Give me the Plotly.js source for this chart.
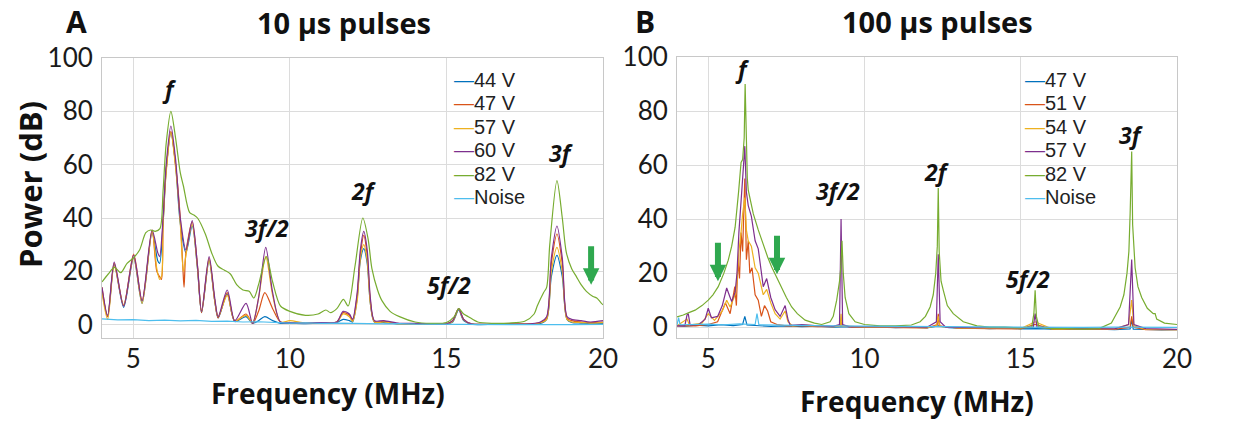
<!DOCTYPE html>
<html>
<head>
<meta charset="utf-8">
<script src="https://cdn.plot.ly/plotly-3.0.1.min.js"></script>
<style>html,body{margin:0;padding:0;background:#fff;}#chart{width:1237px;height:421px;}</style>
</head>
<body>
<div id="chart"></div>
<script>
// ---------- Panel A: 10 µs pulses ----------
const namesA = ['44 V', '47 V', '57 V', '60 V', '82 V', 'Noise'];
const colorsA = ['#0072BD', '#D95319', '#EDB120', '#7E2F8E', '#77AC30', '#4DBEEE'];

const a44x = [4.0,4.18,4.39,4.69,5.01,5.28,5.6,5.78,5.84,5.95,6.05,6.2,6.35,6.5,6.68,6.88,7.05,7.18,7.42,7.6,7.71,8.0,8.24,8.6,8.81,9.0,9.2,9.45,9.7,10.0,10.5,11.0,11.5,11.7,11.9,12.0,12.15,12.25,12.36,12.47,12.57,12.7,13.0,13.5,14.0,14.5,15.0,15.2,15.39,15.55,15.8,16.5,17.0,17.5,18.0,18.2,18.35,18.53,18.7,18.85,19.0,19.3,19.6,20.0];
const a44y = [13,3,22.5,6.5,25,8,34.5,24,23,38,58,72,60,38,27,37,21,4.5,24,9,2.5,11.5,1.2,3,0.5,1.5,3,1.5,0.5,0.5,0.4,0.6,0.8,2,1.5,1,10,24,28.5,23,8,1,0.8,0.3,0.3,0.2,0.2,1,5.5,1.5,0.2,0.1,0.2,0.1,0.5,2,18,26,18,2,0.8,0.6,0.4,0.5];

const a47x = [4.0,4.18,4.39,4.69,5.01,5.28,5.6,5.75,5.84,5.9,5.95,6.05,6.2,6.35,6.5,6.58,6.62,6.68,6.88,7.05,7.18,7.42,7.6,7.71,8.0,8.24,8.6,8.81,9.0,9.2,9.45,9.7,10.0,10.5,11.0,11.5,11.7,11.9,12.0,12.15,12.25,12.36,12.47,12.57,12.7,13.0,13.5,14.0,14.5,15.0,15.2,15.39,15.55,15.8,16.5,17.0,17.5,18.0,18.2,18.35,18.53,18.7,18.85,19.0,19.3,19.6,20.0];
const a47y = [14,3,23,7,26.5,9,35.5,20,18,17,38,58,72.5,60,40,22,14,27,38.5,22,4.5,25,9,2.5,12,1.2,4,0.5,5,12,6,1,0.8,0.5,0.7,1,4.5,3.5,1.5,11,26,33.5,26,9,1.2,1.2,0.3,0.4,0.2,0.3,1.5,6,2,0.3,0.2,0.3,0.2,0.8,2.5,23,34,23,2.5,1.5,1,0.8,1];

const a57x = [4.0,4.18,4.39,4.69,5.01,5.28,5.6,5.75,5.84,5.9,5.95,6.05,6.2,6.35,6.5,6.6,6.68,6.88,7.05,7.18,7.42,7.6,7.71,8.0,8.24,8.6,8.81,9.0,9.23,9.45,9.7,10.0,10.5,11.0,11.5,11.7,11.9,12.0,12.15,12.25,12.36,12.47,12.57,12.7,13.0,13.5,14.0,14.5,15.0,15.2,15.39,15.55,15.8,16.5,17.0,17.5,18.0,18.2,18.35,18.53,18.7,18.85,19.0,19.3,19.6,20.0];
const a57y = [12,2,22,7.5,25,8,35,21,17,18,37,57,72,59,38,20,26,37.5,21,5,24,9,3,11,1.5,3.5,0.8,10,25.5,11,1,1.5,0.6,0.8,1,4,3,1.2,9,25,30,24,8,1,1,0.3,0.3,0.2,0.3,1.2,5.8,1.8,0.3,0.2,0.3,0.2,0.7,2,20,29,20,2,1,0.8,0.6,0.8];

const a60x = [4.0,4.18,4.39,4.69,5.01,5.28,5.6,5.78,5.84,5.95,6.05,6.2,6.35,6.5,6.68,6.88,7.05,7.18,7.42,7.6,7.71,8.0,8.24,8.6,8.81,9.0,9.23,9.45,9.7,10.0,10.5,11.0,11.5,11.7,11.9,12.0,12.15,12.25,12.36,12.47,12.57,12.7,13.0,13.5,14.0,14.5,15.0,15.2,15.39,15.55,15.8,16.5,17.0,17.5,18.0,18.2,18.35,18.53,18.7,18.85,19.0,19.3,19.6,20.0];
const a60y = [14,3.5,23.5,7,26,9,35.5,27,25.5,40,60,74.5,62,40,28,39,22,5,25.5,10,3,13,1.5,8,0.5,10,29,12,1,0.8,0.6,0.8,1,5,4,2,12,28,35,28,10,1.5,1.5,0.5,0.5,0.3,0.3,1.5,6,2,0.3,0.2,0.3,0.2,1,3,25,37,25,3,2,1.5,1,1.5];

const a82x = [4.0,4.2,4.4,4.6,4.8,5.0,5.2,5.4,5.55,5.7,5.85,5.95,6.05,6.2,6.35,6.5,6.6,6.8,6.95,7.05,7.3,7.5,7.7,7.9,8.1,8.3,8.5,8.7,8.85,9.0,9.25,9.45,9.7,10.0,10.5,10.9,11.15,11.3,11.5,11.71,11.86,12.08,12.33,12.5,12.62,12.8,12.94,13.2,13.5,14.0,14.5,15.0,15.25,15.39,15.55,15.7,16.0,16.5,17.0,17.5,17.8,17.9,18.1,18.2,18.3,18.53,18.7,18.83,19.0,19.15,19.3,19.47,19.68,19.8,19.95,20.0];
const a82y = [16,19,21.5,19.5,23,25,28,34.5,35.5,35,36,50,68,80,70,57,52,42,41,40,34,27,22,20.5,19,15,13,12.5,10,15,25.5,16,7,5,3.5,4,5.5,4.5,6,9.5,7,22,40,32,21,13,9,5,3,1,0.5,0.8,3,6,4,3,1,0.5,0.6,1.3,4,7,12,14,30,54,40,27,21,18,15,12.5,10.6,10,8,7.5];

const aNx = [4.0,4.5,5.0,5.5,6.0,6.5,7.0,7.5,8.0,8.5,9.0,9.5,10.0,10.5,11.0,11.5,12.0,12.5,13.0,13.5,14.0,15.0,16.0,17.0,18.0,19.0,20.0];
const aNy = [2.2,1.8,1.9,1.5,1.7,1.4,1.6,1.2,1.3,1.0,1.1,0.8,0.6,0.7,0.5,0.6,0.6,0.4,0.3,0.4,0.2,0.1,0.0,-0.1,0.0,0.0,0.1];

// ---------- Panel B: 100 µs pulses ----------
const namesB = ['47 V', '51 V', '54 V', '57 V', '82 V', 'Noise'];
const colorsB = ['#0072BD', '#D95319', '#EDB120', '#7E2F8E', '#77AC30', '#4DBEEE'];

const b47x = [4.0,4.3,4.6,5.0,5.4,5.8,6.1,6.17,6.24,6.6,7.0,7.5,8.0,8.5,9.0,9.5,10.0,10.5,11.0,11.5,12.0,12.36,12.7,13.0,13.5,14.0,14.5,15.0,15.5,16.0,16.5,17.0,17.5,18.0,18.5,18.55,18.6,19.0,19.5,20.0];
const b47y = [0.6,0.4,0.8,0.5,0.9,0.6,1.0,4,0.8,0.6,0.3,0.5,0.2,0.4,0.0,0.2,-0.1,0.1,-0.2,0.0,-0.3,0.5,-0.2,-0.4,-0.3,-0.5,-0.4,-0.6,-0.5,-0.7,-0.6,-0.8,-0.7,-0.9,-0.6,3,-0.7,-0.8,-1.0,-0.9];

const b51x = [4.0,4.3,4.6,5.0,5.3,5.55,5.7,5.85,5.9,5.95,6.0,6.05,6.1,6.17,6.22,6.28,6.33,6.4,6.5,6.6,6.7,6.8,6.9,7.0,7.2,7.5,8.0,8.5,9.0,9.22,9.25,9.28,9.6,10.0,11.0,12.0,12.33,12.36,12.39,13.0,14.0,15.0,15.46,16.0,17.0,18.0,18.5,18.55,18.6,19.0,20.0];
const b51y = [0.5,0.6,0.5,1.0,2,9,5,15,8,25,18,35,28,55,25,32,20,22,12,10,4,8,6,2,1,0.5,0.5,0.2,0.2,0.5,3,0.5,0,0,-0.2,-0.3,1,5,0.5,-0.4,-0.5,-0.6,1,-0.7,-0.8,-0.8,0,4,0,-0.9,-0.9];

const b54x = [4.0,4.32,4.4,4.8,5.0,5.2,5.45,5.59,5.7,5.86,5.92,5.98,6.05,6.1,6.17,6.22,6.28,6.38,6.5,6.6,6.76,6.87,7.0,7.14,7.3,7.46,7.55,7.7,8.0,9.0,9.22,9.25,9.28,10.0,11.0,12.0,12.3,12.36,12.42,13.0,14.0,15.0,15.46,16.0,17.0,18.0,18.45,18.55,18.62,19.0,20.0];
const b54y = [0.5,3,0.8,1.5,5,2.5,6,10,7.5,12,17,28,35,42,48,36,32,30,22,20,12,14,9,5,3,6,2,0.5,0.8,0.2,0.5,5,0.5,0,-0.1,-0.2,0.5,4,0.3,-0.3,-0.4,-0.5,2,-0.6,-0.7,-0.7,1,10,0.5,-0.8,-0.9];

const b57x = [4.0,4.25,4.32,4.36,4.42,4.7,4.9,5.0,5.1,5.3,5.45,5.59,5.7,5.75,5.86,5.92,5.98,6.05,6.1,6.17,6.22,6.28,6.38,6.5,6.6,6.76,6.87,7.0,7.14,7.3,7.46,7.55,7.62,8.0,8.5,9.0,9.2,9.25,9.3,9.5,10.0,11.0,12.0,12.3,12.36,12.42,12.6,13.5,15.0,15.4,15.46,15.52,16.5,18.0,18.45,18.55,18.62,19.0,20.0];
const b57y = [0.5,0.5,4.5,5,0.8,1,3,7,3.5,4,8,14.5,11,9.5,13,20,35,45,55,67,50,45,41,32,29,15,18,11,6.5,4,8,3,0.7,1,0.5,0.3,1,40,1,0.2,0.2,0,0,2,27,2,0,-0.2,-0.3,0,5,0,-0.5,-0.6,1,25,1,-0.5,-0.8];

const b82x = [4.0,4.2,4.4,4.58,4.8,5.0,5.15,5.32,5.5,5.64,5.75,5.86,5.97,6.05,6.1,6.15,6.18,6.21,6.25,6.28,6.44,6.6,6.71,6.9,7.03,7.2,7.35,7.5,7.67,7.85,8.1,8.4,8.63,8.8,8.9,9.0,9.11,9.2,9.24,9.28,9.32,9.38,9.5,9.7,10.0,10.5,11.0,11.5,11.78,11.95,12.1,12.2,12.28,12.33,12.36,12.39,12.45,12.52,12.65,12.84,13.16,13.6,14.0,14.5,15.0,15.35,15.42,15.46,15.5,15.58,16.0,16.5,17.0,17.5,17.9,18.18,18.3,18.4,18.46,18.5,18.55,18.58,18.66,18.75,18.87,19.05,19.24,19.3,19.35,19.6,19.88,20.0];
const b82y = [3.8,4.5,5.5,6.3,8,10,12,15,20,24.8,30,37,50,61,62,70,90,68,55,50.7,42,36,32,26,22.3,18,14.4,11,7.5,5,2.6,1.5,1,1.5,2,4,10,17,22,32,20,11,5,2,1,0.5,0.5,0.8,2,4,7.5,12,20,30,51.5,28,17,13.7,8,5,2,0.5,0,0,-0.3,0,5,13.7,4,0,-0.5,-0.5,-0.7,-0.5,1.5,7.5,12,20,28,42,65,38,22,15,11,7,5,5,3,1.5,1,1];

const bNx = [4.0,4.05,4.1,4.5,5.0,5.5,6.0,6.5,6.56,6.62,7.0,7.5,8.0,9.0,10.0,11.0,12.0,13.0,14.0,15.0,16.0,17.0,18.0,19.0,20.0];
const bNy = [0.8,3.5,0.9,1.0,1.1,0.9,1.2,1.0,5.0,0.9,0.8,0.7,0.6,0.5,0.4,0.3,0.3,0.2,0.1,0.0,-0.1,-0.1,0.0,-0.1,-0.1];

const seriesA = [[a44x,a44y],[a47x,a47y],[a57x,a57y],[a60x,a60y],[a82x,a82y],[aNx,aNy]];
const seriesB = [[b47x,b47y],[b51x,b51y],[b54x,b54y],[b57x,b57y],[b82x,b82y],[bNx,bNy]];

// Peak labels
const peakLabels = ['f', '3f/2', '2f', '5f/2', '3f'];
const peakPosA = [[6.17, 88.4], [9.27, 36.3], [12.37, 50.2], [15.09, 15.0], [18.66, 64.4]];
const peakPosB = [[6.11, 95.6], [9.15, 50.4], [12.32, 57.4], [15.23, 17.8], [18.53, 71.1]];
// Arrow tips (data coords)
const arrowsA = [[19.62, 15]];
const arrowsB = [[5.31, 17], [7.2, 19.6]];

const yTicks = [0, 20, 40, 60, 80, 100];
const xTicks = [5, 10, 15, 20];

const traces = [];
seriesA.forEach((s, i) => {
  traces.push({x: s[0], y: s[1], type: 'scatter', mode: 'lines', name: namesA[i],
    line: {color: colorsA[i], width: 1.2, shape: i === 5 ? 'linear' : 'spline', smoothing: 0.8},
    xaxis: 'x', yaxis: 'y', showlegend: false});
});
seriesB.forEach((s, i) => {
  traces.push({x: s[0], y: s[1], type: 'scatter', mode: 'lines', name: namesB[i],
    line: {color: colorsB[i], width: 1.2},
    xaxis: 'x2', yaxis: 'y2', showlegend: false});
});
const fontTick = {family: 'Lato, "Open Sans", sans-serif', size: 26, color: '#1a1a1a'};
function xax(dom) {
  return {domain: dom, range: [4, 20], tickvals: xTicks, ticktext: xTicks.map(String),
    showgrid: true, gridcolor: '#dcdcdc', gridwidth: 1, zeroline: false, showline: true, mirror: true,
    linecolor: '#c8c8c8', linewidth: 1, ticks: '', tickfont: fontTick, ticklabelstandoff: -2};
}
function yax(dom, rng) {
  return {domain: dom, range: rng, tickvals: yTicks, ticktext: yTicks.map(String),
    showgrid: true, gridcolor: '#dcdcdc', gridwidth: 1, zeroline: false, showline: true, mirror: true,
    linecolor: '#c8c8c8', linewidth: 1, ticks: '', tickfont: fontTick, ticklabelstandoff: 3};
}

const ann = [];
function txt(x, y, text, font, extra) {
  return Object.assign({xref: 'paper', yref: 'paper', x: x, y: y, text: text, showarrow: false,
    xanchor: 'center', yanchor: 'middle', font: font}, extra || {});
}
const sans = '"Open Sans", sans-serif';
ann.push(txt(76/1237, 1 - 22/421, '<b>A</b>', {family: sans, size: 30, color: '#111'}));
ann.push(txt(645/1237, 1 - 22/421, '<b>B</b>', {family: sans, size: 30, color: '#111'}));
ann.push(txt(344/1237, 1 - 23/421, '<b>10 µs pulses</b>', {family: sans, size: 29, color: '#111'}));
ann.push(txt(937/1237, 1 - 22/421, '<b>100 µs pulses</b>', {family: sans, size: 29, color: '#111'}));
ann.push(txt(328/1237, 1 - 393/421, '<b>Frequency (MHz)</b>', {family: sans, size: 28, color: '#111'}));
ann.push(txt(917/1237, 1 - 401/421, '<b>Frequency (MHz)</b>', {family: sans, size: 28, color: '#111'}));
ann.push(txt(30/1237, 1 - 185/421, '<b>Power (dB)</b>', {family: sans, size: 31, color: '#111'}, {textangle: -90}));

const peakFont = {family: sans, size: 23, color: '#111'};
peakLabels.forEach((t, i) => {
  ann.push({xref: 'x', yref: 'y', x: peakPosA[i][0], y: peakPosA[i][1], text: '<b><i>' + t + '</i></b>', showarrow: false, font: peakFont});
  ann.push({xref: 'x2', yref: 'y2', x: peakPosB[i][0], y: peakPosB[i][1], text: '<b><i>' + t + '</i></b>', showarrow: false, font: peakFont});
});
const arrowGreen = '#2FA84F';
arrowsA.forEach(p => ann.push({xref: 'x', yref: 'y', x: p[0], y: p[1], ax: 0, ay: -40, text: '', showarrow: true,
  arrowhead: 2, arrowsize: 0.55, arrowwidth: 6, arrowcolor: arrowGreen}));
arrowsB.forEach(p => ann.push({xref: 'x2', yref: 'y2', x: p[0], y: p[1], ax: 0, ay: -40, text: '', showarrow: true,
  arrowhead: 2, arrowsize: 0.55, arrowwidth: 6, arrowcolor: arrowGreen}));

// Legends (as text with coloured dashes)
const legFont = {family: '"Liberation Sans", Arial, sans-serif', size: 20, color: '#222'};
function legend(names, colors, xLeft) {
  names.forEach((n, i) => {
    const yPix = 80 + i * 23.4;
    ann.push({xref: 'paper', yref: 'paper', x: xLeft / 1237, y: 1 - yPix / 421, xanchor: 'left', yanchor: 'middle',
      showarrow: false, font: legFont,
      text: '<span style="color:' + colors[i] + '">—</span>' + n});
  });
}
legend(namesA, colorsA, 452);
legend(namesB, colorsB, 1023);

const layout = {
  width: 1237, height: 421, margin: {l: 0, r: 0, t: 0, b: 0},
  paper_bgcolor: '#ffffff', plot_bgcolor: '#ffffff', showlegend: false,
  xaxis: Object.assign(xax([102/1237, 603/1237]), {anchor: 'y'}),
  yaxis: Object.assign(yax([1 - 338/421, 1 - 58/421], [-5, 100]), {anchor: 'x'}),
  xaxis2: Object.assign(xax([677/1237, 1177/1237]), {anchor: 'y2'}),
  yaxis2: Object.assign(yax([1 - 338/421, 1 - 57/421], [-4, 100]), {anchor: 'x2'}),
  annotations: ann
};
Plotly.newPlot('chart', traces, layout, {displayModeBar: false, staticPlot: true});
</script>
</body>
</html>
